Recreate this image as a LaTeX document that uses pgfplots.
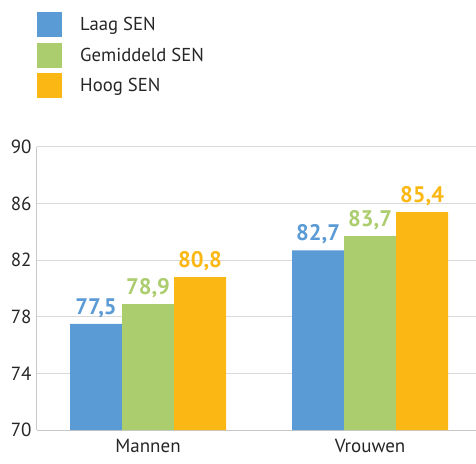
\documentclass[border=0pt]{standalone}
\usepackage{pgfplots}
\pgfplotsset{compat=1.18}
\usepackage{fontspec}
\setmainfont{PT Sans}
\definecolor{cblue}{RGB}{91,155,213}
\definecolor{cgreen}{RGB}{171,205,110}
\definecolor{corange}{RGB}{251,184,21}
\definecolor{gridgray}{RGB}{217,217,217}
\definecolor{axgray}{RGB}{200,200,200}
\begin{document}
\begin{tikzpicture}
\useasboundingbox (0,0) rectangle (476pt,463pt);
\begin{axis}[
  at={(37pt,33pt)}, anchor=south west,
  scale only axis, width=439pt, height=283pt,
  ybar=0pt, bar width=52pt,
  xmin=-0.5, xmax=1.477,
  ymin=70, ymax=90,
  ytick={70,74,78,82,86,90},
  xtick={0,1}, xticklabels={Mannen,Vrouwen},
  axis x line*=bottom, axis y line*=left,
  axis line style={axgray, line width=1pt, -},
  ymajorgrids, grid style={gridgray, line width=1pt},
  major tick length=0pt,
  tick label style={font=\fontsize{19}{22}\selectfont, text=black!85},
  yticklabel style={xshift=-2pt},
  xticklabel style={yshift=-6pt},
  /pgf/number format/assume math mode=true,
  nodes near coords,
  every node near coord/.append style={font=\fontsize{22.5}{26}\selectfont\bfseries, yshift=3pt,
     /pgf/number format/use comma, /pgf/number format/fixed, /pgf/number format/fixed zerofill, /pgf/number format/precision=1},
  legend image code/.code={\fill[#1] (0pt,-12.5pt) rectangle (25pt,12.5pt);},
  legend cell align=left,
  legend style={draw=none, fill=none, at={(axis description cs:0,1.477)}, anchor=north west,
    inner sep=0pt, row sep=5.5pt, font=\fontsize{18.7}{21}\selectfont, text=black!85,
    /tikz/every odd column/.append style={column sep=16pt}},
  clip=false,
]
\addplot[fill=cblue, draw=none, every node near coord/.append style={text=cblue}] coordinates {(0,77.5) (1,82.7)};
\addplot[fill=cgreen, draw=none, every node near coord/.append style={text=cgreen}] coordinates {(0,78.9) (1,83.7)};
\addplot[fill=corange, draw=none, every node near coord/.append style={text=corange}] coordinates {(0,80.8) (1,85.4)};
\legend{Laag SEN, Gemiddeld SEN, Hoog SEN}
\end{axis}
\end{tikzpicture}
\end{document}
